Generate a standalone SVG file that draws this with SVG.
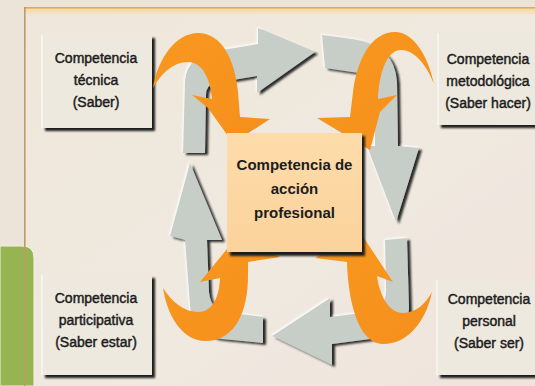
<svg xmlns="http://www.w3.org/2000/svg" width="535" height="386" viewBox="0 0 535 386">
<defs>
<style>
.lbl{font-family:"Liberation Sans",Arial,sans-serif;font-size:14px;fill:#1c1c1c;text-anchor:middle;stroke:#1c1c1c;stroke-width:0.45}
.ctr{font-family:"Liberation Sans",Arial,sans-serif;font-size:15px;font-weight:bold;fill:#1c1c1c;text-anchor:middle}
.gray{fill:#c7cec8}
.orange{fill:url(#og)}
.card{fill:#eee9df}
.shadow{fill:#1e1e1e;filter:url(#blur)}
</style>
<linearGradient id="bg" x1="0" y1="0" x2="1" y2="1">
<stop offset="0" stop-color="#efe7da"/>
<stop offset="0.6" stop-color="#efe9e0"/>
<stop offset="1" stop-color="#f0e3dc"/>
</linearGradient>
<linearGradient id="band" x1="0" y1="0" x2="0" y2="1">
<stop offset="0" stop-color="#f8d89c"/>
<stop offset="1" stop-color="#f8d89c" stop-opacity="0"/>
</linearGradient>
<linearGradient id="cg" x1="0" y1="0" x2="0" y2="1">
<stop offset="0" stop-color="#fddcab"/>
<stop offset="1" stop-color="#fbd29a"/>
</linearGradient>
<linearGradient id="og" x1="0" y1="0" x2="1" y2="1">
<stop offset="0" stop-color="#f8981f"/>
<stop offset="1" stop-color="#f58f1c"/>
</linearGradient>
<filter id="blur" x="-10%" y="-10%" width="120%" height="120%">
<feGaussianBlur stdDeviation="0.8"/>
</filter>
<filter id="gsh" x="-20%" y="-20%" width="140%" height="140%">
<feGaussianBlur in="SourceAlpha" stdDeviation="0.9" result="b"/>
<feOffset in="b" dx="2.5" dy="2" result="o"/>
<feFlood flood-color="#2a2a2a"/>
<feComposite in2="o" operator="in" result="s"/>
<feOffset in="b" dx="-1.5" dy="-1.2" result="o2"/>
<feFlood flood-color="#ffffff"/>
<feComposite in2="o2" operator="in" result="w"/>
<feMerge><feMergeNode in="w"/><feMergeNode in="s"/><feMergeNode in="SourceGraphic"/></feMerge>
</filter>
</defs>

<rect x="0" y="0" width="535" height="386" fill="#ece4d8"/>
<rect x="25" y="8" width="515" height="380" fill="url(#bg)"/>
<rect x="25" y="8.5" width="515" height="7" fill="url(#band)"/>
<rect x="24" y="7" width="515" height="1.6" fill="#e2ab4f"/>
<path d="M0,246 L22,246 Q34,246 34,258 L34,386 L0,386 Z" fill="#96b552" stroke="#f4f1e6" stroke-width="1"/>
<rect x="24" y="7" width="1.6" height="379" fill="#c09a66"/>

<g id="node-tecnica">
<rect class="shadow" x="45" y="38" width="110" height="93"/>
<rect class="card" x="42" y="35" width="110" height="93"/>
<path d="M42,128 L42,35" stroke="#ffffff" stroke-width="1"/>
<text class="lbl" x="96" y="63">Competencia</text>
<text class="lbl" x="96" y="85">técnica</text>
<text class="lbl" x="96" y="107">(Saber)</text>
</g>

<g id="node-metodologica">
<rect class="shadow" x="441" y="36" width="110" height="92"/>
<rect class="card" x="438" y="33" width="110" height="92"/>
<path d="M438,125 L438,33" stroke="#ffffff" stroke-width="1"/>
<text class="lbl" x="488" y="64">Competencia</text>
<text class="lbl" x="488" y="86">metodológica</text>
<text class="lbl" x="488" y="108">(Saber hacer)</text>
</g>

<g id="node-participativa">
<rect class="shadow" x="45" y="278" width="110" height="100"/>
<rect class="card" x="42" y="275" width="110" height="100"/>
<path d="M42,375 L42,275" stroke="#ffffff" stroke-width="1"/>
<text class="lbl" x="96" y="303">Competencia</text>
<text class="lbl" x="96" y="325">participativa</text>
<text class="lbl" x="96" y="347">(Saber estar)</text>
</g>

<g id="node-personal">
<rect class="shadow" x="440" y="283" width="110" height="95"/>
<rect class="card" x="437" y="280" width="110" height="95"/>
<path d="M437,375 L437,280" stroke="#ffffff" stroke-width="1"/>
<text class="lbl" x="489" y="304">Competencia</text>
<text class="lbl" x="489" y="326">personal</text>
<text class="lbl" x="489" y="348">(Saber ser)</text>
</g>

<g id="connectors">
<g filter="url(#gsh)">
<path class="gray" d="M183,153 L185,80 Q188,55 216,51 L258,44 L258,28 L315,52 L257,93 L257,76 L215,83 Q206,85 206,95 L205,153 Z"/>
<path class="gray" d="M322,35 L352,39 Q395,45 397,82 L398,146 L419,148 L396,222 L367,146 L375,146 L375,95 Q374,74 352,72 L325,68 Z"/>
<path class="gray" d="M385,240 L407,238 L409,308 Q408,336 378,338 L332,344 L332,365 L272,336 L330,298 L330,317 L362,313 Q386,311 386,290 Z"/>
<path class="gray" d="M263,317 L263,343 L222,339 Q191,335 190,305 L185,240 L170,236 L190,163 L222,240 L207,240 L209,292 Q211,313 232,313 Z"/>
</g>
<path class="orange" d="M153,88 C158,58 176,33 198,33 C222,33 235,60 238,92 L240,117 L270,119 L233,143 L208,108 L192,95 L212,99 C210,76 201,62 188,62 C173,62 161,74 153,88 Z"/>
<path class="orange" d="M434,84 C428,55 413,32 395,32 C371,32 357,60 353,92 L350,117 L317,118 L370,150 L380,112 L397,95 L378,99 C379,75 386,50 401,50 C416,50 428,68 434,84 Z"/>
<path class="orange" d="M163,288 C168,320 185,342 207,341 C236,340 248,310 248,276 L248,262 L280,257 L236,238 L200,282 L220,278 C219,300 211,312 198,312 C184,312 172,302 163,288 Z"/>
<path class="orange" d="M432,292 C425,325 405,345 382,344 C358,343 348,300 347,262 L315,258 L360,232 L393,282 L377,276 C380,298 390,313 403,313 C416,313 426,303 432,292 Z"/>
</g>

<g id="node-accion">
<rect class="shadow" x="230" y="136" width="135" height="120"/>
<rect x="227" y="133" width="135" height="119" fill="url(#cg)"/>
<text class="ctr" x="294.5" y="170">Competencia de</text>
<text class="ctr" x="294.5" y="194">acción</text>
<text class="ctr" x="294.5" y="218">profesional</text>
</g>
</svg>
